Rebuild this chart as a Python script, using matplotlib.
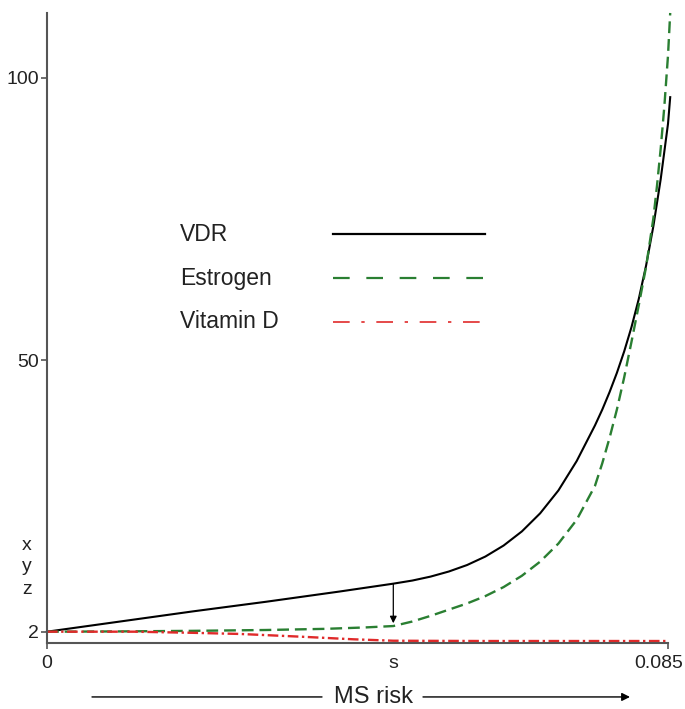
import matplotlib.pyplot as plt
from matplotlib.transforms import ScaledTranslation

plt.rcParams['font.family'] = ['Liberation Sans', 'DejaVu Sans']

# values
s_pos = 0.0474
x_max = 0.085

vdr_x = [0, 0.01, 0.02, 0.03, 0.04, 0.0474, 0.05, 0.0525, 0.055, 0.0575, 0.06, 0.0625,
         0.065, 0.0675, 0.07, 0.0725, 0.075, 0.076, 0.077, 0.078, 0.079, 0.08, 0.081,
         0.082, 0.083, 0.084, 0.085, 0.0853]
vdr_y = [2, 3.8, 5.6, 7.3, 9.1, 10.5, 11.05, 11.75, 12.65, 13.8, 15.3, 17.25,
         19.75, 22.95, 27.0, 32.2, 38.5, 41.3, 44.4, 47.8, 51.6, 55.9, 60.9,
         66.8, 73.8, 82.1, 91.9, 96.6]

estrogen_x = [0, 0.01, 0.02, 0.03, 0.038, 0.0435, 0.0474, 0.05, 0.0525, 0.055, 0.0575,
              0.06, 0.0625, 0.065, 0.0675, 0.07, 0.0725, 0.075, 0.076, 0.077, 0.078,
              0.079, 0.08, 0.081, 0.082, 0.083, 0.0835, 0.084, 0.0845, 0.085, 0.0853]
estrogen_y = [2, 2.05, 2.15, 2.3, 2.5, 2.75, 3.0, 3.8, 4.8, 5.9, 7.0,
              8.3, 9.9, 11.9, 14.4, 17.6, 21.8, 27.8, 31.8, 36.3, 41.3,
              47.0, 53.3, 59.8, 66.6, 75.2, 81.0, 87.5, 95.0, 104.0, 111.5]

vitd_x = [0, 0.012, 0.02, 0.0264, 0.035, 0.042, 0.0474, 0.06, 0.085]
vitd_y = [2, 2.0, 1.8, 1.6, 1.1, 0.65, 0.4, 0.35, 0.35]

ytick_vals = [2, 50, 100]
xtick_vals = [0, s_pos, x_max]
xtick_labels = ['0', 's', '0.085']
side_labels = ['x', 'y', 'z']
side_label_y = [17.3, 13.5, 9.4]

green = '#2a7f32'
red = '#e02a2a'

fig = plt.figure(figsize=(6.85, 7.09), dpi=100)
ax = fig.add_axes([0.0686, 0.0931, 0.9098, 0.8886])

ax.plot(vdr_x, vdr_y, color='black', lw=1.5, clip_on=False)
ax.plot(estrogen_x, estrogen_y, color=green, lw=1.7, dashes=(5, 2.5), clip_on=False)
ax.plot(vitd_x, vitd_y, color=red, lw=1.7, dashes=(4.5, 1.5, 1, 1.5))

# arrow from VDR down to Estrogen at s
ax.annotate('', xy=(s_pos, 3.5), xytext=(s_pos, 10.4),
            arrowprops=dict(arrowstyle='-|>', color='black', lw=0.9,
                            mutation_scale=10, shrinkA=0, shrinkB=0))

ax.set_xlim(0, 0.0853)
ax.set_ylim(0, 111.5)

for side in ['top', 'right']:
    ax.spines[side].set_visible(False)
for side in ['left', 'bottom']:
    ax.spines[side].set_color('#555555')
    ax.spines[side].set_linewidth(1.5)
ax.spines['bottom'].set_bounds(0, x_max)

ax.set_yticks(ytick_vals)
ax.set_yticklabels([str(v) for v in ytick_vals])
ax.set_xticks(xtick_vals)
ax.set_xticklabels(xtick_labels)
ax.tick_params(axis='both', direction='out', length=4.5, width=1.2, color='#555555',
               labelsize=14, labelcolor='#222222')
ax.tick_params(axis='y', pad=1)
ax.tick_params(axis='x', pad=4)
ax.xaxis.get_major_ticks()[1].tick1line.set_visible(False)
last = ax.get_xticklabels()[2]
last.set_transform(last.get_transform() + ScaledTranslation(-0.09, 0, fig.dpi_scale_trans))

for lab, yv in zip(side_labels, side_label_y):
    ax.text(-0.032, yv, lab, transform=ax.get_yaxis_transform(), ha='center', va='center',
            fontsize=14, color='#222222')

# legend drawn by hand: labels left, line samples right
leg_names = ['VDR', 'Estrogen', 'Vitamin D']
leg_y = [0.649, 0.579, 0.510]
for name, yy in zip(leg_names, leg_y):
    ax.text(0.213, yy, name, transform=ax.transAxes, va='center', fontsize=16.5,
            color='#222222')
ax.plot([0.459, 0.703], [leg_y[0]] * 2, transform=ax.transAxes, color='black', lw=1.6)
ax.plot([0.459, 0.703], [leg_y[1]] * 2, transform=ax.transAxes, color=green, lw=1.6,
        dashes=(7.5, 7.5))
ax.plot([0.459, 0.703], [leg_y[2]] * 2, transform=ax.transAxes, color=red, lw=1.2,
        dashes=(10, 7, 2, 7))

# MS risk arrow under the axis
fig.text(373 / 685, 0.017, 'MS risk', ha='center', va='center', fontsize=17, color='#222222')
ax.annotate('', xy=(322 / 685, 0.017), xytext=(92 / 685, 0.017), xycoords='figure fraction',
            arrowprops=dict(arrowstyle='-', color='black', lw=1.0, shrinkA=0, shrinkB=0))
ax.annotate('', xy=(630 / 685, 0.017), xytext=(423 / 685, 0.017), xycoords='figure fraction',
            arrowprops=dict(arrowstyle='-|>', color='black', lw=1.0, mutation_scale=12,
                            shrinkA=0, shrinkB=0))

fig.savefig('out.png', dpi=100)
